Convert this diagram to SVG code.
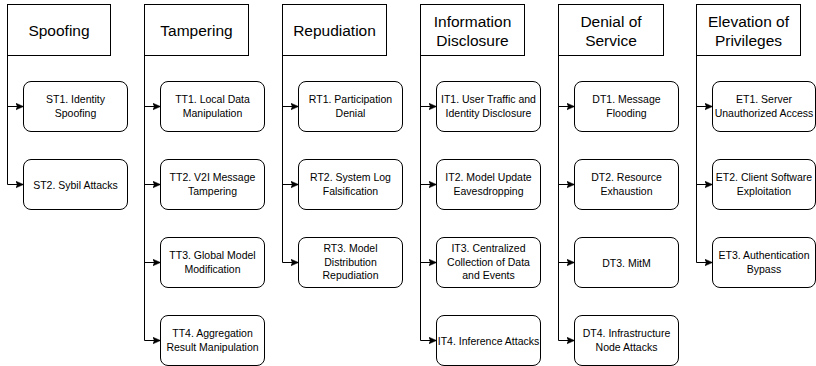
<svg xmlns="http://www.w3.org/2000/svg" width="816" height="366" viewBox="0 0 816 366">
<defs>
<style>
.hdr{fill:#fff;stroke:#000;stroke-width:1}
.box{fill:#fff;stroke:#000;stroke-width:1}
.ht{font-family:"Liberation Sans",Arial,Helvetica,sans-serif;font-size:15.5px;fill:#000;text-anchor:middle}
.bt{font-family:"Liberation Sans",Arial,Helvetica,sans-serif;font-size:10.5px;fill:#000;text-anchor:middle}
.con{fill:none;stroke:#000;stroke-width:1;marker-end:url(#arr)}
</style>
<marker id="arr" markerUnits="userSpaceOnUse" markerWidth="10" markerHeight="10" refX="8" refY="4" orient="auto">
<path d="M0,0.5 L8,4 L0,7.5 L2,4 z" fill="#000" stroke="#000" stroke-width="0.5"/>
</marker>
</defs>
<rect width="816" height="366" fill="#fff"/>

<g id="connectors">
<path class="con" d="M7.5,55.5 V106.5 H23.5"/>
<path class="con" d="M7.5,55.5 V184.5 H23.5"/>

<path class="con" d="M144.5,55.5 V106.5 H160.5"/>
<path class="con" d="M144.5,55.5 V184.5 H160.5"/>
<path class="con" d="M144.5,55.5 V262.5 H160.5"/>
<path class="con" d="M144.5,55.5 V340.5 H160.5"/>

<path class="con" d="M282.5,55.5 V106.5 H298.5"/>
<path class="con" d="M282.5,55.5 V184.5 H298.5"/>
<path class="con" d="M282.5,55.5 V262.5 H298.5"/>

<path class="con" d="M420.5,55.5 V106.5 H436.5"/>
<path class="con" d="M420.5,55.5 V184.5 H436.5"/>
<path class="con" d="M420.5,55.5 V262.5 H436.5"/>
<path class="con" d="M420.5,55.5 V340.5 H436.5"/>

<path class="con" d="M558.5,55.5 V106.5 H574.5"/>
<path class="con" d="M558.5,55.5 V184.5 H574.5"/>
<path class="con" d="M558.5,55.5 V262.5 H574.5"/>
<path class="con" d="M558.5,55.5 V340.5 H574.5"/>

<path class="con" d="M696.5,55.5 V106.5 H712.5"/>
<path class="con" d="M696.5,55.5 V184.5 H712.5"/>
<path class="con" d="M696.5,55.5 V262.5 H712.5"/>
</g>

<!-- Spoofing -->
<g id="spoofing">
<rect class="hdr" x="7.5" y="4.5" width="103" height="51"/>
<text class="ht" x="59" y="36">Spoofing</text>
</g>
<g id="st1">
<rect class="box" x="23.5" y="81.5" width="104" height="50" rx="7.5"/>
<text class="bt" x="75.5" y="103">ST1. Identity</text>
<text class="bt" x="75.5" y="116.5">Spoofing</text>
</g>
<g id="st2">
<rect class="box" x="23.5" y="159.5" width="104" height="50" rx="7.5"/>
<text class="bt" x="75.5" y="188.5">ST2. Sybil Attacks</text>
</g>

<!-- Tampering -->
<g id="tampering">
<rect class="hdr" x="144.5" y="4.5" width="104" height="51"/>
<text class="ht" x="196.5" y="36">Tampering</text>
</g>
<g id="tt1">
<rect class="box" x="160.5" y="81.5" width="104" height="50" rx="7.5"/>
<text class="bt" x="212.5" y="103">TT1. Local Data</text>
<text class="bt" x="212.5" y="116.5">Manipulation</text>
</g>
<g id="tt2">
<rect class="box" x="160.5" y="159.5" width="104" height="50" rx="7.5"/>
<text class="bt" x="212.5" y="181">TT2. V2I Message</text>
<text class="bt" x="212.5" y="194.5">Tampering</text>
</g>
<g id="tt3">
<rect class="box" x="160.5" y="237.5" width="104" height="50" rx="7.5"/>
<text class="bt" x="212.5" y="259">TT3. Global Model</text>
<text class="bt" x="212.5" y="272.5">Modification</text>
</g>
<g id="tt4">
<rect class="box" x="160.5" y="315.5" width="104" height="50" rx="7.5"/>
<text class="bt" x="212.5" y="337">TT4. Aggregation</text>
<text class="bt" x="212.5" y="350.5">Result Manipulation</text>
</g>

<!-- Repudiation -->
<g id="repudiation">
<rect class="hdr" x="282.5" y="4.5" width="104" height="51"/>
<text class="ht" x="334.5" y="36">Repudiation</text>
</g>
<g id="rt1">
<rect class="box" x="298.5" y="81.5" width="104" height="50" rx="7.5"/>
<text class="bt" x="350.5" y="103">RT1. Participation</text>
<text class="bt" x="350.5" y="116.5">Denial</text>
</g>
<g id="rt2">
<rect class="box" x="298.5" y="159.5" width="104" height="50" rx="7.5"/>
<text class="bt" x="350.5" y="181">RT2. System Log</text>
<text class="bt" x="350.5" y="194.5">Falsification</text>
</g>
<g id="rt3">
<rect class="box" x="298.5" y="237.5" width="104" height="50" rx="7.5"/>
<text class="bt" x="350.5" y="252">RT3. Model</text>
<text class="bt" x="350.5" y="265.5">Distribution</text>
<text class="bt" x="350.5" y="279">Repudiation</text>
</g>

<!-- Information Disclosure -->
<g id="information-disclosure">
<rect class="hdr" x="420.5" y="4.5" width="104" height="51"/>
<text class="ht" x="472.5" y="27">Information</text>
<text class="ht" x="472.5" y="46">Disclosure</text>
</g>
<g id="it1">
<rect class="box" x="436.5" y="81.5" width="104" height="50" rx="7.5"/>
<text class="bt" x="488.5" y="103">IT1. User Traffic and</text>
<text class="bt" x="488.5" y="116.5">Identity Disclosure</text>
</g>
<g id="it2">
<rect class="box" x="436.5" y="159.5" width="104" height="50" rx="7.5"/>
<text class="bt" x="488.5" y="181">IT2. Model Update</text>
<text class="bt" x="488.5" y="194.5">Eavesdropping</text>
</g>
<g id="it3">
<rect class="box" x="436.5" y="237.5" width="104" height="50" rx="7.5"/>
<text class="bt" x="488.5" y="252">IT3. Centralized</text>
<text class="bt" x="488.5" y="265.5">Collection of Data</text>
<text class="bt" x="488.5" y="279">and Events</text>
</g>
<g id="it4">
<rect class="box" x="436.5" y="315.5" width="104" height="50" rx="7.5"/>
<text class="bt" x="488.5" y="344.5">IT4. Inference Attacks</text>
</g>

<!-- Denial of Service -->
<g id="denial-of-service">
<rect class="hdr" x="558.5" y="4.5" width="105" height="51"/>
<text class="ht" x="611" y="27">Denial of</text>
<text class="ht" x="611" y="46">Service</text>
</g>
<g id="dt1">
<rect class="box" x="574.5" y="81.5" width="104" height="50" rx="7.5"/>
<text class="bt" x="626.5" y="103">DT1. Message</text>
<text class="bt" x="626.5" y="116.5">Flooding</text>
</g>
<g id="dt2">
<rect class="box" x="574.5" y="159.5" width="104" height="50" rx="7.5"/>
<text class="bt" x="626.5" y="181">DT2. Resource</text>
<text class="bt" x="626.5" y="194.5">Exhaustion</text>
</g>
<g id="dt3">
<rect class="box" x="574.5" y="237.5" width="104" height="50" rx="7.5"/>
<text class="bt" x="626.5" y="266.5">DT3. MitM</text>
</g>
<g id="dt4">
<rect class="box" x="574.5" y="315.5" width="104" height="50" rx="7.5"/>
<text class="bt" x="626.5" y="337">DT4. Infrastructure</text>
<text class="bt" x="626.5" y="350.5">Node Attacks</text>
</g>

<!-- Elevation of Privileges -->
<g id="elevation-of-privileges">
<rect class="hdr" x="696.5" y="4.5" width="104" height="51"/>
<text class="ht" x="748.5" y="27">Elevation of</text>
<text class="ht" x="748.5" y="46">Privileges</text>
</g>
<g id="et1">
<rect class="box" x="712.5" y="81.5" width="103" height="50" rx="7.5"/>
<text class="bt" x="764" y="103">ET1. Server</text>
<text class="bt" x="764" y="116.5">Unauthorized Access</text>
</g>
<g id="et2">
<rect class="box" x="712.5" y="159.5" width="103" height="50" rx="7.5"/>
<text class="bt" x="764" y="181">ET2. Client Software</text>
<text class="bt" x="764" y="194.5">Exploitation</text>
</g>
<g id="et3">
<rect class="box" x="712.5" y="237.5" width="103" height="50" rx="7.5"/>
<text class="bt" x="764" y="259">ET3. Authentication</text>
<text class="bt" x="764" y="272.5">Bypass</text>
</g>
</svg>
